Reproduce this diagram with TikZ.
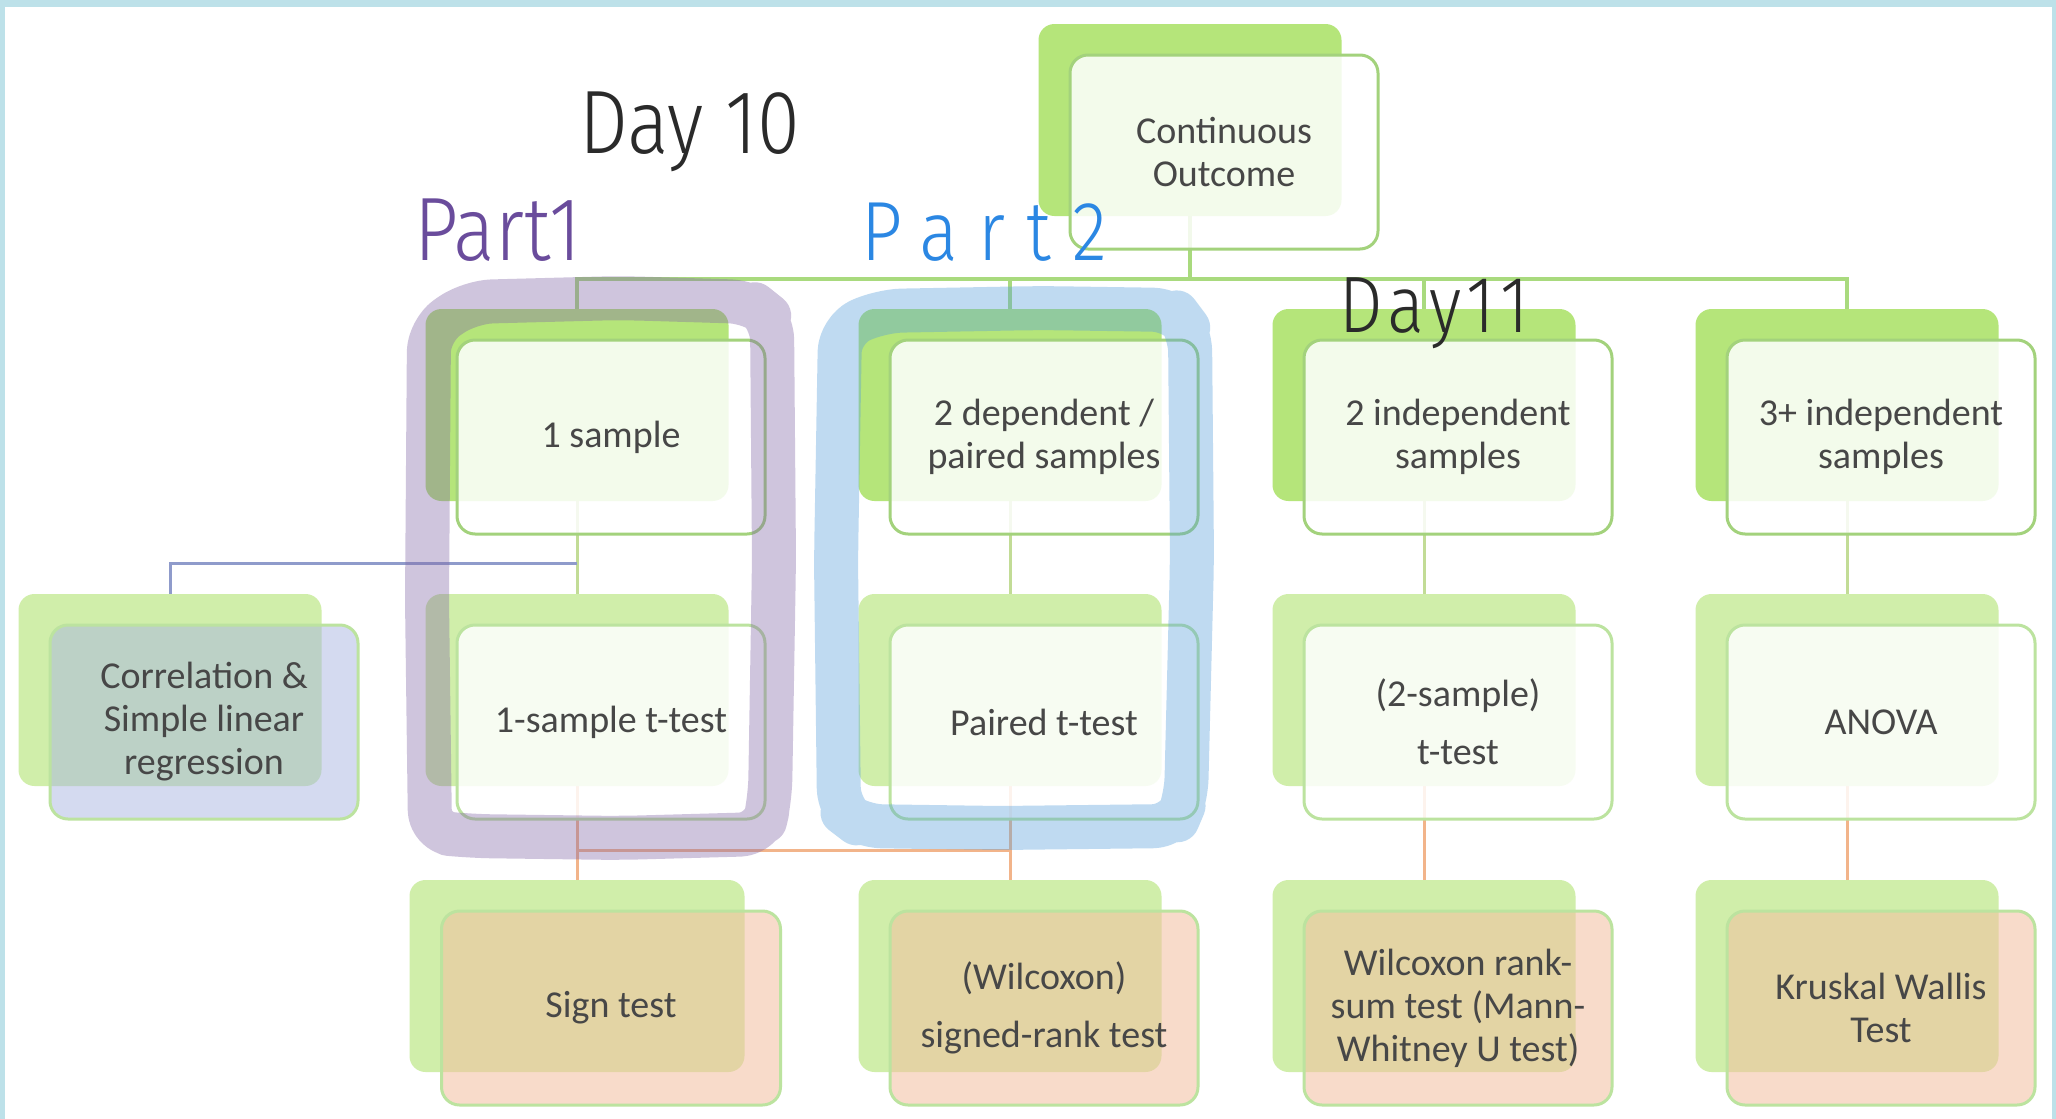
\documentclass[tikz,border=0pt]{standalone}
\usepackage{fontspec}
\setmainfont{Carlito}
\newfontfamily\hand[FakeStretch=0.86,UprightFont={* Light}]{Fira Sans}
\newfontfamily\handwide[FakeStretch=0.86,LetterSpace=25,UprightFont={* Light}]{Fira Sans}
\newfontfamily\handloose[FakeStretch=0.86,LetterSpace=7,UprightFont={* Light}]{Fira Sans}

\definecolor{frame}{HTML}{BDE1E9}
\definecolor{gtop}{HTML}{B5E57A}
\definecolor{glow}{HTML}{D0EEAA}
\definecolor{edgetop}{HTML}{A3D27C}
\definecolor{edgelow}{HTML}{BCE39F}
\definecolor{peach}{HTML}{F4BFA0}
\definecolor{lav}{HTML}{AAB6E2}
\definecolor{txt}{HTML}{474747}
\definecolor{lnkgreen}{HTML}{A9DA7E}
\definecolor{lnklow}{HTML}{C2DC96}
\definecolor{lnkblue}{HTML}{8F9BCB}
\definecolor{lnkorange}{HTML}{F2B48A}
\definecolor{mkpurple}{HTML}{8367A6}
\definecolor{mkblue}{HTML}{58A0DB}
\definecolor{inkpurple}{HTML}{6A4C9C}
\definecolor{inkblue}{HTML}{2B87E3}
\definecolor{ink}{HTML}{2A2A2A}

\pgfdeclarelayer{paper}
\pgfdeclarelayer{wires}
\pgfsetlayers{paper,wires,main}

\tikzset{
    backbox/.style={rectangle, rounded corners=16pt, minimum width=303pt,
        minimum height=192pt, inner sep=0pt, fill=#1},
    frontbox/.style={rectangle, rounded corners=18pt, minimum width=308pt,
        minimum height=194pt, inner sep=0pt, line width=3pt, align=center,
        text=txt, font=\fontsize{38}{43}\selectfont, text opacity=1},
    whitecard/.style={frontbox, fill=white, fill opacity=.85, draw=#1},
    peachcard/.style={frontbox, fill=peach, fill opacity=.55, draw=edgelow},
    lavcard/.style={frontbox, fill=lav, fill opacity=.5, draw=edgelow},
    link/.style={line width=#1},
    marker/.style={draw=#1, opacity=.38, line width=44pt, line cap=round,
        line join=round, rounded corners=22pt},
    ink/.style={anchor=base west, inner sep=0pt, text=#1},
}

\begin{document}
\begin{tikzpicture}[x=1pt, y=-1pt]
    \useasboundingbox (0,0) rectangle (2056,1119);
    \begin{pgfonlayer}{paper}
        \fill[white] (0,0) rectangle (2056,1119);
        \fill[frame] (0,0) rectangle (2056,7);
        \fill[frame] (0,0) rectangle (5,1119);
        \fill[frame] (2052,0) rectangle (2056,1119);
    \end{pgfonlayer}

    % back cards
    \node[backbox=gtop] (rootbk) at (1190,120) {};
    \node[backbox=gtop] (onesambk) at (577,405) {};
    \node[backbox=gtop] (twodepbk) at (1010,405) {};
    \node[backbox=gtop] (twoindbk) at (1424,405) {};
    \node[backbox=gtop] (threeindbk) at (1847,405) {};
    \node[backbox=glow] (corrbk) at (170,690) {};
    \node[backbox=glow] (ttonebk) at (577,690) {};
    \node[backbox=glow] (tpairbk) at (1010,690) {};
    \node[backbox=glow] (tttwobk) at (1424,690) {};
    \node[backbox=glow] (anovabk) at (1847,690) {};
    \node[backbox=glow, minimum width=335pt] (signbk) at (577,976) {};
    \node[backbox=glow] (wsrbk) at (1010,976) {};
    \node[backbox=glow] (wrsbk) at (1424,976) {};
    \node[backbox=glow] (kwbk) at (1847,976) {};

    % connectors, kept under the cards
    \begin{pgfonlayer}{wires}
        \foreach \c in {onesambk,twodepbk,twoindbk,threeindbk}
            \draw[link=4pt, lnkgreen] (rootbk.south) -- ++(0,63) -| (\c.north);
        \foreach \a/\b in {onesambk/ttonebk,twodepbk/tpairbk,twoindbk/tttwobk,threeindbk/anovabk}
            \draw[link=3pt, lnklow] (\a.south) -- (\b.north);
        \draw[link=3pt, lnkblue] (onesambk.south) ++(0,62) -| (corrbk.north);
        \foreach \a/\b in {ttonebk/signbk,tpairbk/wsrbk,tttwobk/wrsbk,anovabk/kwbk}
            \draw[link=3pt, lnkorange] (\a.south) -- (\b.north);
        \draw[link=3pt, lnkorange] (ttonebk.south) -- ++(0,64) -| (wsrbk.north);
        \draw[link=3pt, lnkorange] (tpairbk.south) -- ++(0,64) -| (signbk.north);
    \end{pgfonlayer}

    % front cards
    \node[whitecard=edgetop] (root) at ([shift={(34,32)}]rootbk.center) {Continuous\\Outcome};
    \node[whitecard=edgetop] (onesam) at ([shift={(34,32)}]onesambk.center) {1 sample};
    \node[whitecard=edgetop] (twodep) at ([shift={(34,32)}]twodepbk.center) {2 dependent /\\paired samples};
    \node[whitecard=edgetop] (twoind) at ([shift={(34,32)}]twoindbk.center) {2 independent\\samples};
    \node[whitecard=edgetop] (threeind) at ([shift={(34,32)}]threeindbk.center) {3+ independent\\samples};
    \node[lavcard] (corr) at ([shift={(34,32)}]corrbk.center) {Correlation \&\\Simple linear\\regression};
    \node[whitecard=edgelow] (ttone) at ([shift={(34,32)}]ttonebk.center) {1-sample t-test};
    \node[whitecard=edgelow] (tpair) at ([shift={(34,32)}]tpairbk.center) {Paired t-test};
    \node[whitecard=edgelow] (tttwo) at ([shift={(34,32)}]tttwobk.center) {(2-sample)\\[15pt]t-test};
    \node[whitecard=edgelow] (anova) at ([shift={(34,32)}]anovabk.center) {ANOVA};
    \node[peachcard, minimum width=339pt] (sign) at ([shift={(34,32)}]signbk.center) {Sign test};
    \node[peachcard] (wsr) at ([shift={(34,32)}]wsrbk.center) {(Wilcoxon)\\[15pt]signed-rank test};
    \node[peachcard] (wrs) at ([shift={(34,32)}]wrsbk.center) {Wilcoxon rank-\\sum test (Mann-\\Whitney U test)};
    \node[peachcard] (kw) at ([shift={(34,32)}]kwbk.center) {Kruskal Wallis\\Test};

    % highlighter loops
    \draw[marker=mkpurple] (470,302) -- (620,298) -- (752,302) -- (772,318)
        -- (774,560) -- (770,800) -- (762,834) -- (620,838) -- (470,836)
        -- (430,832) -- (427,600) -- (429,330) -- cycle;
    \draw[marker=mkblue] (880,311) -- (1040,308) -- (1175,310) -- (1190,330)
        -- (1192,560) -- (1186,800) -- (1175,826) -- (1000,828) -- (860,826)
        -- (839,810) -- (836,560) -- (840,330) -- cycle;

    % handwritten notes
    \node[ink=ink, font=\hand\fontsize{90}{90}\selectfont] (day10) at (579,153) {Day 10};
    \node[ink=inkpurple, font=\hand\fontsize{90}{90}\selectfont] (part1) at (414,260) {Part1};
    \node[ink=inkblue, font=\handwide\fontsize{84}{84}\selectfont] (part2) at (861,260) {Part2};
    \node[ink=ink, font=\handloose\fontsize{80}{80}\selectfont] (day11) at (1339,332) {Day11};
\end{tikzpicture}
\end{document}
